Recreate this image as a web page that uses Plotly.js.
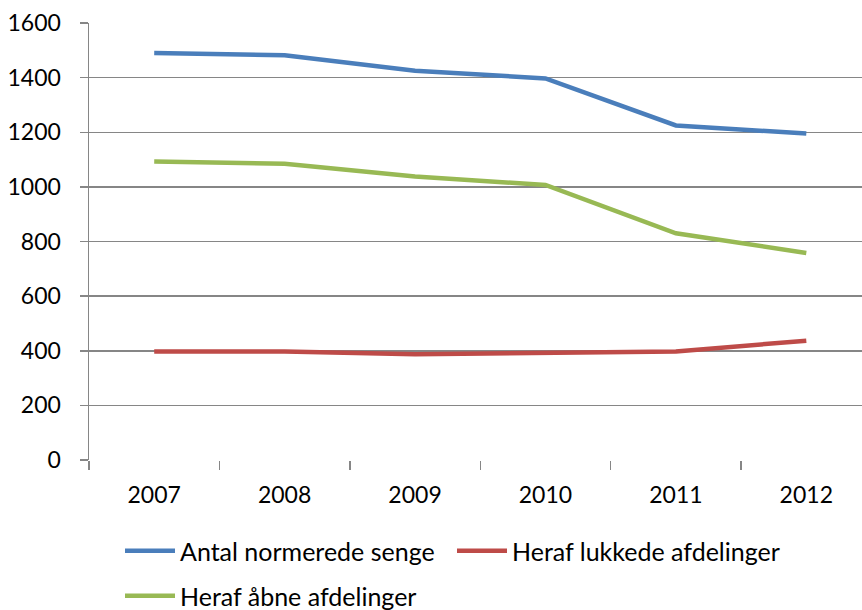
<!DOCTYPE html>
<html><head><meta charset="utf-8">
<script src="https://cdn.plot.ly/plotly-3.0.1.min.js"></script>
<style>body{margin:0;padding:0;background:#fff}#chart{width:862px;height:610px}</style>
</head><body><div id="chart"></div>
<script>
const years = ['2007','2008','2009','2010','2011','2012'];
const antalSenge = [1490, 1482, 1425, 1397, 1225, 1195];
const lukkede = [397, 397, 387, 390, 397, 437];
const aabne = [1093, 1085, 1038, 1007, 830, 758];
const yTicks = [0, 200, 400, 600, 800, 1000, 1200, 1400, 1600];

const tickFont = {family: 'Lato, "Open Sans", sans-serif', size: 23, color: '#000'};
const legFont = {family: 'Lato, "Open Sans", sans-serif', size: 25, color: '#000'};
const traces = [
  {x: years, y: antalSenge, name: 'Antal normerede senge', type: 'scatter', mode: 'lines',
   line: {color: '#4a7ebb', width: 4.5}, legend: 'legend'},
  {x: years, y: lukkede, name: 'Heraf lukkede afdelinger', type: 'scatter', mode: 'lines',
   line: {color: '#be4b48', width: 4.5}, legend: 'legend'},
  {x: years, y: aabne, name: 'Heraf åbne afdelinger', type: 'scatter', mode: 'lines',
   line: {color: '#98b954', width: 4.5}, legend: 'legend2'}
];
const layout = {
  width: 862, height: 610,
  margin: {l: 89, r: 0, t: 23, b: 150, autoexpand: false},
  paper_bgcolor: '#fff', plot_bgcolor: '#fff',
  font: tickFont,
  showlegend: true,
  xaxis: {type: 'category', range: [-0.5, 5.427], showgrid: false, showline: false,
    ticks: 'outside', tickson: 'boundaries', ticklen: 9, tickcolor: '#868686', tickwidth: 1.5,
    tickfont: tickFont, ticklabelstandoff: 19, zeroline: false, fixedrange: true, automargin: false},
  yaxis: {range: [0, 1600], tickvals: yTicks, showgrid: true, gridcolor: '#868686', gridwidth: 1.5,
    showline: true, linecolor: '#868686', linewidth: 1.5, ticks: 'outside', ticklen: 8,
    tickcolor: '#868686', tickwidth: 1.5, tickfont: tickFont, ticklabelstandoff: 14, zeroline: false, automargin: false},
  legend: {orientation: 'h', x: 120/862, xref: 'container', xanchor: 'left', y: 59/610, yref: 'container', yanchor: 'middle',
    entrywidth: 267, font: legFont, bgcolor: 'rgba(0,0,0,0)', itemwidth: 50},
  legend2: {orientation: 'h', x: 120/862, xref: 'container', xanchor: 'left', y: 14/610, yref: 'container', yanchor: 'middle',
    font: legFont, bgcolor: 'rgba(0,0,0,0)', itemwidth: 50}
};
Plotly.newPlot('chart', traces, layout, {displayModeBar: false, staticPlot: true});
</script></body></html>
